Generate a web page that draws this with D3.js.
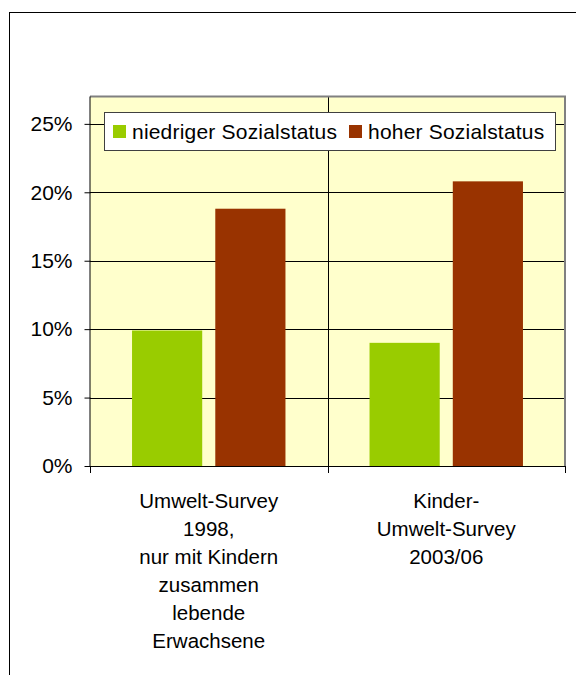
<!DOCTYPE html>
<html>
<head>
<meta charset="utf-8">
<script src="https://cdn.jsdelivr.net/npm/d3@7"></script>
<style>
  html, body { margin: 0; padding: 0; background: #fff; }
  svg { display: block; }
  text { font-family: "Liberation Sans", Arial, sans-serif; fill: #000; }
</style>
</head>
<body>
<svg id="chart" width="576" height="675"></svg>
<script>
const categories = [
  ["Umwelt-Survey", "1998,", "nur mit Kindern", "zusammen", "lebende", "Erwachsene"],
  ["Kinder-", "Umwelt-Survey", "2003/06"]
];
const seriesNames = ["niedriger Sozialstatus", "hoher Sozialstatus"];
const seriesColors = ["#99CC00", "#993300"];
const lowStatus = [0.099, 0.090];
const highStatus = [0.188, 0.208];
const yTicks = [0, 0.05, 0.10, 0.15, 0.20, 0.25];

const svg = d3.select("#chart");
const plot = { left: 90, right: 565, top: 96.5, bottom: 466 };

// outer chart frame
svg.append("rect").attr("x", 9.5).attr("y", 12.5).attr("width", 600).attr("height", 700)
  .attr("fill", "#fff").attr("stroke", "#000").attr("stroke-width", 1);

const catIdx = categories.map((d, i) => i);
const x = d3.scaleBand().domain(catIdx).range([plot.left, plot.right]).padding(0);
const xInner = d3.scaleBand().domain([0, 1]).range([0, x.bandwidth()])
  .paddingInner(0.157).paddingOuter(0.505);
const y = d3.scaleLinear().domain([0, 0.27]).range([plot.bottom, plot.top]);

// plot background
svg.append("rect").attr("x", plot.left).attr("y", plot.top)
  .attr("width", plot.right - plot.left).attr("height", plot.bottom - plot.top)
  .attr("fill", "#FFFFCC");

// horizontal gridlines
svg.append("g").selectAll("line").data(yTicks.filter(t => t > 0)).join("line")
  .attr("x1", plot.left).attr("x2", plot.right)
  .attr("y1", d => Math.round(y(d)) + 0.5).attr("y2", d => Math.round(y(d)) + 0.5)
  .attr("stroke", "#000").attr("stroke-width", 1);

// vertical category divider
svg.append("line")
  .attr("x1", Math.round(x(1)) + 0.5).attr("x2", Math.round(x(1)) + 0.5)
  .attr("y1", plot.top).attr("y2", plot.bottom)
  .attr("stroke", "#000").attr("stroke-width", 1);

// plot border top/right (gray)
svg.append("path")
  .attr("d", `M${plot.left},${plot.top} H${plot.right} V${plot.bottom}`)
  .attr("fill", "none").attr("stroke", "#808080").attr("stroke-width", 2);

// bars
const data = [];
catIdx.forEach(i => {
  data.push({ c: i, s: 0, v: lowStatus[i] });
  data.push({ c: i, s: 1, v: highStatus[i] });
});
svg.append("g").selectAll("rect").data(data).join("rect")
  .attr("x", d => x(d.c) + xInner(d.s))
  .attr("width", xInner.bandwidth())
  .attr("y", d => y(d.v))
  .attr("height", d => y(0) - y(d.v))
  .attr("fill", d => seriesColors[d.s]);

// y axis
const yAxis = d3.axisLeft(y).tickValues(yTicks).tickFormat(d3.format(".0%"))
  .tickSize(6).tickPadding(12);
const gy = svg.append("g").attr("transform", `translate(${plot.left + 0.5},0)`).call(yAxis);
gy.select(".domain").attr("d", `M-0.5,${plot.top}V${plot.bottom + 1}`).attr("stroke", "#000");
gy.selectAll(".tick line").attr("stroke", "#000");
gy.selectAll(".tick text").attr("font-size", 21).attr("font-family", '"Liberation Sans", Arial, sans-serif');

// x axis line + ticks
svg.append("line").attr("x1", plot.left).attr("x2", plot.right + 1)
  .attr("y1", plot.bottom + 0.5).attr("y2", plot.bottom + 0.5).attr("stroke", "#000");
const tickXs = [plot.left, x(1), plot.right];
svg.append("g").selectAll("line").data(tickXs).join("line")
  .attr("x1", d => Math.round(d) + 0.5).attr("x2", d => Math.round(d) + 0.5)
  .attr("y1", plot.bottom).attr("y2", plot.bottom + 7).attr("stroke", "#000");

// category labels
const lab = svg.append("g").selectAll("text").data(catIdx).join("text")
  .attr("text-anchor", "middle").attr("font-size", 20.5)
  .attr("x", d => x(d) + x.bandwidth() / 2)
  .attr("y", 508);
lab.each(function (d) {
  const t = d3.select(this);
  categories[d].forEach((line, k) => {
    t.append("tspan").attr("x", x(d) + x.bandwidth() / 2)
      .attr("y", 508 + k * 28).text(line);
  });
});

// legend
const lg = svg.append("g");
lg.append("rect").attr("x", 104.5).attr("y", 112.5).attr("width", 451).attr("height", 38)
  .attr("fill", "#fff").attr("stroke", "#404040").attr("stroke-width", 1);
const legendX = [113, 349];
seriesNames.forEach((name, i) => {
  lg.append("rect").attr("x", legendX[i]).attr("y", 125).attr("width", 13).attr("height", 13)
    .attr("fill", seriesColors[i]);
  lg.append("text").attr("x", legendX[i] + 19).attr("y", 138.5)
    .attr("font-size", 21).attr("letter-spacing", 0.2).text(name);
});
</script>
</body>
</html>
